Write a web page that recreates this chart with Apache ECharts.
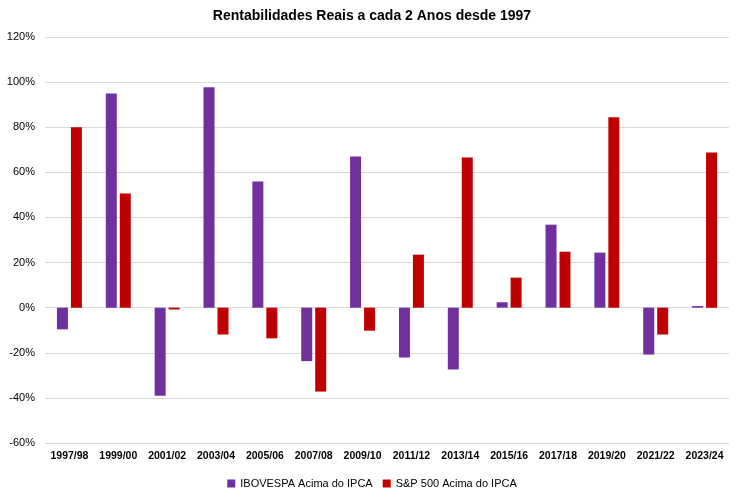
<!DOCTYPE html>
<html>
<head>
<meta charset="utf-8">
<script src="https://cdn.jsdelivr.net/npm/echarts@6/dist/echarts.min.js"></script>
<style>
  html, body { margin: 0; padding: 0; background: #fff; }
  #chart { width: 744px; height: 496px; }
</style>
</head>
<body>
<div id="chart"></div>
<script>
// periods (2-year windows)
const periods = ["1997/98", "1999/00", "2001/02", "2003/04", "2005/06", "2007/08", "2009/10",
  "2011/12", "2013/14", "2015/16", "2017/18", "2019/20", "2021/22", "2023/24"];
const ibovespa = [-9.6, 95.0, -39.0, 97.7, 55.9, -23.7, 67.0, -22.1, -27.4, 2.4, 36.8, 24.4, -20.8, 0.7];
const sp500 = [80.0, 50.6, -0.8, -11.9, -13.6, -37.2, -10.2, 23.5, 66.6, 13.3, 24.8, 84.4, -11.9, 68.8];

const font = "'Liberation Sans', Arial, sans-serif";

const chart = echarts.init(document.getElementById("chart"));
chart.setOption({
  animation: false,
  title: {
    text: "Rentabilidades Reais a cada 2 Anos desde 1997",
    left: "center",
    top: 4,
    textStyle: { fontFamily: font, fontSize: 14, fontWeight: "bold", color: "#000" },
  },
  grid: { left: 45, right: 15, top: 37, bottom: 53 },
  legend: {
    bottom: 2,
    left: "center",
    itemWidth: 8,
    itemHeight: 8,
    itemGap: 10,
    icon: "rect",
    textStyle: { fontFamily: font, fontSize: 11, color: "#000" },
  },
  xAxis: {
    type: "category",
    data: periods,
    axisLine: { show: false, onZero: false },
    axisTick: { show: false },
    axisLabel: {
      interval: 0,
      fontFamily: font, fontSize: 10.5, fontWeight: "bold", color: "#000", margin: 8,
    },
  },
  yAxis: {
    type: "value",
    min: -60,
    max: 120,
    interval: 20,
    axisLine: { show: false },
    axisTick: { show: false },
    axisLabel: {
      formatter: "{value}%",
      fontFamily: font, fontSize: 11, color: "#000", margin: 10,
    },
    splitLine: { lineStyle: { color: "#d9d9d9", width: 1 } },
  },
  series: [
    {
      name: "IBOVESPA Acima do IPCA",
      type: "bar",
      data: ibovespa,
      barWidth: 11,
      barGap: "27%",
      itemStyle: { color: "#7030A0" },
    },
    {
      name: "S&P 500 Acima do IPCA",
      type: "bar",
      data: sp500,
      barWidth: 11,
      itemStyle: { color: "#C00000" },
    },
  ],
});
</script>
</body>
</html>
